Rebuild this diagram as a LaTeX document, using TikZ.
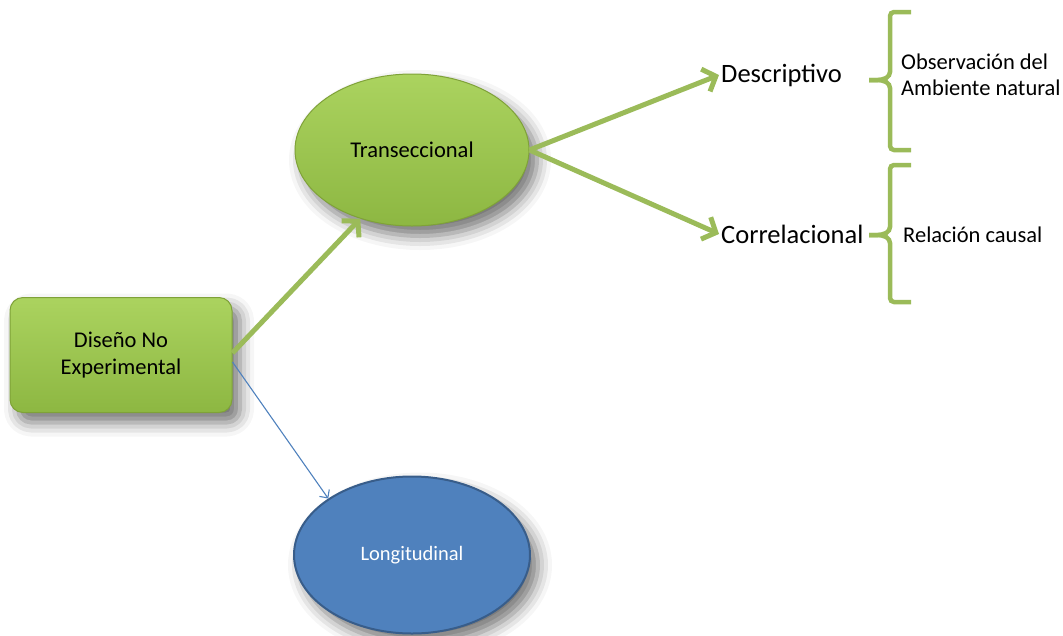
\documentclass[tikz,border=0pt]{standalone}
\usepackage{fontspec}
\setmainfont{Carlito}
\usetikzlibrary{shapes.geometric,arrows.meta,shadows.blur}
\definecolor{leafA}{HTML}{ABD35F}
\definecolor{leafB}{HTML}{8DB742}
\definecolor{leafEdge}{HTML}{7FA238}
\definecolor{leafLine}{HTML}{9BBB59}
\definecolor{seaFill}{HTML}{4F81BD}
\definecolor{seaEdge}{HTML}{385D8A}
\tikzset{
  soft/.style={blur shadow={shadow xshift=8pt,shadow yshift=-10pt,shadow blur radius=14pt,shadow opacity=55}},
  greenbox/.style={draw=leafEdge,line width=1pt,top color=leafA,bottom color=leafB,soft,
    align=center,font=\fontsize{22.5}{27}\selectfont},
  greenoval/.style={greenbox,ellipse,inner sep=0pt},
  blueoval/.style={ellipse,draw=seaEdge,line width=2pt,fill=seaFill,soft,inner sep=0pt,
    text=white,font=\fontsize{20.5}{25}\selectfont},
  leaf/.style={inner sep=2pt,font=\fontsize{26.5}{30}\selectfont},
  note/.style={inner sep=0pt,align=left,font=\fontsize{22.5}{26}\selectfont},
  fatarrow/.style={draw=leafLine,line width=5pt,-{Straight Barb[length=11pt,width=24pt,line width=5pt]}},
  thinarrow/.style={draw=seaFill,line width=1.1pt,-{Straight Barb[length=6pt,width=12pt,line width=1.1pt]}},
  brace/.style={draw=leafLine,line width=4.5pt,rounded corners=4pt}
}
\begin{document}
\begin{tikzpicture}[x=1pt,y=-1pt]
  \useasboundingbox (0,0) rectangle (1063,635);

  % main boxes
  \node[greenbox,rounded corners=13pt,minimum width=222pt,minimum height=115pt] (dis) at (121,355)
    {Diseño No\\Experimental};
  \node[greenoval,minimum width=234pt,minimum height=152pt] (trans) at (412,150) {Transeccional};
  \node[blueoval,minimum width=236pt,minimum height=157pt] (long) at (412,555) {Longitudinal};

  % second-level labels
  \node[leaf,anchor=west] (desc) at (719,75) {Descriptivo};
  \node[leaf,anchor=west] (corr) at (719,234) {Correlacional};

  % notes beside the braces
  \node[note,anchor=west] (obs) at (901,75) {Observación del\\Ambiente natural};
  \node[note,anchor=west] (rel) at (903,235) {Relación causal};

  % connectors
  \draw[fatarrow] ([yshift=2pt]dis.east) -- (trans.233);
  \draw[thinarrow] ([yshift=-7pt]dis.east) -- (long.146);
  \draw[fatarrow] (trans.east) -- (desc.west);
  \draw[fatarrow] (trans.east) -- (corr.west);

  % braces
  \coordinate (b1) at (869,80);
  \coordinate (b2) at (869,235);
  \draw[brace] (911,12) -- (890,12) -- (890,76) -- (882,80) -- (b1);
  \draw[brace] (b1) -- (882,80) -- (890,84) -- (890,150) -- (911,150);
  \draw[brace] (911,165) -- (890,165) -- (890,231) -- (882,235) -- (b2);
  \draw[brace] (b2) -- (882,235) -- (890,239) -- (890,302) -- (911,302);
\end{tikzpicture}
\end{document}
